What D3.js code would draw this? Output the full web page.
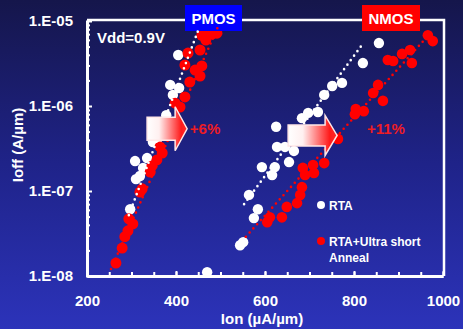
<!DOCTYPE html>
<html>
<head>
<meta charset="utf-8">
<script src="https://cdn.jsdelivr.net/npm/d3@7"></script>
<style>
  html, body { margin: 0; padding: 0; background: #1f2390; }
  svg { display: block; font-family: "Liberation Sans", Arial, sans-serif; font-weight: bold; }
</style>
</head>
<body>
<div id="chart"></div>
<script>
// PMOS, RTA  [Ion uA/um, Ioff A/um]
const pmosRtaIon  = [405, 387, 407, 393, 378, 357, 348, 335, 308, 326, 319, 310, 297, 470];
const pmosRtaIoff = [3.98e-6, 1.77e-6, 1.63e-6, 1.35e-6, 7.8e-7, 4.0e-7, 3.77e-7, 2.44e-7, 2.25e-7, 1.87e-7, 1.5e-7, 1.38e-7, 6.1e-8, 1.11e-8];
// PMOS, RTA + ultra short anneal
const pmosUsaIon  = [492, 470, 458, 481, 467, 454, 427, 420, 443, 458, 454, 431, 420, 398, 409,
                     364, 369, 357, 346, 342, 324, 319, 294, 303, 292, 285, 279, 265];
const pmosUsaIoff = [7.2e-6, 7.8e-6, 6.8e-6, 7.0e-6, 5.97e-6, 4.56e-6, 4.2e-6, 3.03e-6, 2.65e-6, 2.96e-6, 2.25e-6, 1.91e-6, 1.28e-6, 1.08e-6, 9.7e-7,
                     3.3e-7, 2.8e-7, 2.32e-7, 1.97e-7, 1.67e-7, 1.06e-7, 9.7e-8, 4.7e-8, 4.1e-8, 3.4e-8, 2.9e-8, 2.13e-8, 1.42e-8];
// NMOS, RTA
const nmosRtaIon  = [856, 820, 773, 751, 733, 719, 697, 683, 625, 627, 645, 665, 654, 593, 622, 616, 564, 584, 575, 551, 544];
const nmosRtaIoff = [5.5e-6, 3.2e-6, 1.87e-6, 1.72e-6, 1.35e-6, 8.5e-7, 8.3e-7, 7.2e-7, 5.7e-7, 3.3e-7, 3.3e-7, 2.96e-7, 2.19e-7, 1.91e-7, 1.91e-7, 1.54e-7, 9.0e-8, 6.1e-8, 4.8e-8, 2.5e-8, 2.3e-8];
// NMOS, RTA + ultra short anneal
const nmosUsaIon  = [966, 977, 926, 908, 930, 876, 888, 854, 843, 865, 804, 822, 802, 764,
                     733, 708, 685, 690, 710, 683, 679, 672, 649, 638, 611, 605];
const nmosUsaIoff = [6.8e-6, 5.8e-6, 4.56e-6, 4.1e-6, 3.2e-6, 3.47e-6, 3.38e-6, 1.77e-6, 1.42e-6, 1.15e-6, 9.2e-7, 8.7e-7, 8.0e-7, 4.1e-7,
                     2.13e-7, 2.02e-7, 1.87e-7, 1.54e-7, 1.63e-7, 1.11e-7, 9.0e-8, 7.2e-8, 6.5e-8, 4.9e-8, 4.9e-8, 4.3e-8];
// dotted trend lines [start, end]
const pmosRtaFitIon = [294, 452],  pmosRtaFitIoff = [5.2e-8, 8.3e-6];
const pmosUsaFitIon = [254, 497],  pmosUsaFitIoff = [1.21e-8, 9.2e-6];
const nmosRtaFitIon = [553, 820],  nmosRtaFitIoff = [7.0e-8, 5.4e-6];
const nmosUsaFitIon = [557, 958],  nmosUsaFitIoff = [2.9e-8, 6.0e-6];

const xTicks = [200, 400, 600, 800, 1000];
const yTicks = [1e-8, 1e-7, 1e-6, 1e-5];
const yTickLabels = ["1.E-08", "1.E-07", "1.E-06", "1.E-05"];
const legendLabels = ["RTA", "RTA+Ultra short", "Anneal"];

const W = 463, H = 329;
const svg = d3.select("#chart").append("svg").attr("width", W).attr("height", H);

const defs = svg.append("defs");
const bg = defs.append("linearGradient").attr("id", "bg").attr("x1", 0).attr("y1", 0).attr("x2", 0).attr("y2", 1);
bg.append("stop").attr("offset", "0%").attr("stop-color", "#15164b");
bg.append("stop").attr("offset", "50%").attr("stop-color", "#1f2389");
bg.append("stop").attr("offset", "100%").attr("stop-color", "#2c33ba");
const ag = defs.append("linearGradient").attr("id", "arrowGrad").attr("x1", 0).attr("y1", 0).attr("x2", 1).attr("y2", 0);
ag.append("stop").attr("offset", "0%").attr("stop-color", "#ffffff");
ag.append("stop").attr("offset", "30%").attr("stop-color", "#fff0f0");
ag.append("stop").attr("offset", "85%").attr("stop-color", "#ff1a1a");
ag.append("stop").attr("offset", "100%").attr("stop-color", "#ff2a2a");

svg.append("rect").attr("width", W).attr("height", H).attr("fill", "url(#bg)");

const x = d3.scaleLinear().domain([200, 1000]).range([87, 443]);
const y = d3.scaleLog().domain([1e-8, 1e-5]).range([276, 21]);

// frame top + right
svg.append("path")
  .attr("d", `M${x(200)},${y(1e-5) - 1}H${x(1000) + 1}V${y(1e-8)}`)
  .attr("fill", "none").attr("stroke", "#fff").attr("stroke-width", 2.5);

// axes, ticks pointing inward
const xAxis = svg.append("g").attr("transform", `translate(0,${y(1e-8)})`)
  .call(d3.axisBottom(x).tickValues(d3.range(200, 1001, 50)).tickSize(-4).tickSizeOuter(0).tickFormat(""));
const xLab = svg.append("g").attr("transform", `translate(0,${y(1e-8)})`)
  .call(d3.axisBottom(x).tickValues(xTicks).tickSize(-5).tickSizeOuter(0).tickPadding(19).tickFormat(d3.format("d")));
const yMinor = y.ticks().filter(v => !yTicks.includes(v));
const yAxis = svg.append("g").attr("transform", `translate(${x(200)},0)`)
  .call(d3.axisLeft(y).tickValues(yMinor).tickSize(-3).tickSizeOuter(0).tickFormat(""));
const yLab = svg.append("g").attr("transform", `translate(${x(200)},0)`)
  .call(d3.axisLeft(y).tickValues(yTicks).tickSize(-5).tickSizeOuter(0).tickPadding(14)
    .tickFormat((d, i) => yTickLabels[i]));

[xAxis, xLab, yAxis, yLab].forEach(g => {
  g.select(".domain").attr("stroke", "#fff").attr("stroke-width", 3);
  g.selectAll(".tick line").attr("stroke", "#fff").attr("stroke-width", 2);
  g.selectAll(".tick text").attr("fill", "#fff").attr("font-size", 15)
    .attr("font-family", "'Liberation Sans', Arial, sans-serif").attr("font-weight", "bold");
});
yLab.selectAll(".tick line").attr("x1", -1);

// titles
svg.append("text").attr("x", 262).attr("y", 324).attr("text-anchor", "middle")
  .attr("fill", "#fff").attr("font-size", 15).text("Ion (µA/µm)");
svg.append("text").attr("transform", "translate(23,145) rotate(-90)").attr("text-anchor", "middle")
  .attr("fill", "#fff").attr("font-size", 15).text("Ioff (A/µm)");

// points
function dots(ionArr, ioffArr, color, r) {
  svg.append("g").selectAll("circle")
    .data(ionArr.map((v, i) => ({ x: v, y: ioffArr[i] })))
    .join("circle")
    .attr("cx", d => x(d.x)).attr("cy", d => y(d.y)).attr("r", r).attr("fill", color);
}
dots(pmosRtaIon, pmosRtaIoff, "#fff", 5.2);
dots(nmosRtaIon, nmosRtaIoff, "#fff", 5.2);
dots(pmosUsaIon, pmosUsaIoff, "#ff0000", 5.5);
dots(nmosUsaIon, nmosUsaIoff, "#ff0000", 5.3);

// boxes on top frame
function box(label, x0, x1, color) {
  svg.append("rect").attr("x", x0).attr("y", 5).attr("width", x1 - x0).attr("height", 26).attr("fill", color);
  svg.append("text").attr("x", (x0 + x1) / 2).attr("y", 23.5).attr("text-anchor", "middle")
    .attr("fill", "#fff").attr("font-size", 15).text(label);
}
box("PMOS", 185, 242, "#0000ff");
box("NMOS", 362, 420, "#ff0000");

// dotted trends
const line = d3.line().x(d => x(d.x)).y(d => y(d.y));
function trend(ionArr, ioffArr, color) {
  svg.append("path")
    .datum(ionArr.map((v, i) => ({ x: v, y: ioffArr[i] })))
    .attr("d", line).attr("fill", "none").attr("stroke", color)
    .attr("stroke-width", 2.6).attr("stroke-linecap", "round").attr("stroke-dasharray", "0 5.6");
}
trend(pmosRtaFitIon, pmosRtaFitIoff, "#fff");
trend(nmosRtaFitIon, nmosRtaFitIoff, "#fff");
trend(pmosUsaFitIon, pmosUsaFitIoff, "#ff0000");
trend(nmosUsaFitIon, nmosUsaFitIoff, "#ff0000");

// block arrows
function arrow(ion0, ionTip, ioff, bodyH, headH) {
  const x0 = x(ion0), xt = x(ionTip), yc = y(ioff), xh = xt - 12;
  svg.append("path")
    .attr("d", `M${x0},${yc - bodyH}H${xh}V${yc - headH}L${xt},${yc}L${xh},${yc + headH}V${yc + bodyH}H${x0}Z`)
    .attr("fill", "url(#arrowGrad)").attr("stroke", "#ffe8e8").attr("stroke-width", 1.5);
}
arrow(335, 425, 5.4e-7, 11.5, 22);
arrow(652, 762, 4.5e-7, 10.5, 20);

svg.append("text").attr("x", x(431)).attr("y", 133.5).attr("fill", "#ee1c24").attr("font-size", 15).text("+6%");
svg.append("text").attr("x", x(829)).attr("y", 133.5).attr("fill", "#ee1c24").attr("font-size", 15).text("+11%");
svg.append("text").attr("x", 97).attr("y", 43).attr("fill", "#fff").attr("font-size", 15).text("Vdd=0.9V");

// legend
svg.append("circle").attr("cx", 321).attr("cy", 205).attr("r", 4).attr("fill", "#fff");
svg.append("circle").attr("cx", 321).attr("cy", 241).attr("r", 4).attr("fill", "#ff0000");
svg.append("text").attr("x", 329).attr("y", 209.5).attr("fill", "#fff").attr("font-size", 12).text(legendLabels[0]);
svg.append("text").attr("x", 329).attr("y", 245.5).attr("fill", "#fff").attr("font-size", 12).text(legendLabels[1]);
svg.append("text").attr("x", 329).attr("y", 262).attr("fill", "#fff").attr("font-size", 12).text(legendLabels[2]);
</script>
</body>
</html>
